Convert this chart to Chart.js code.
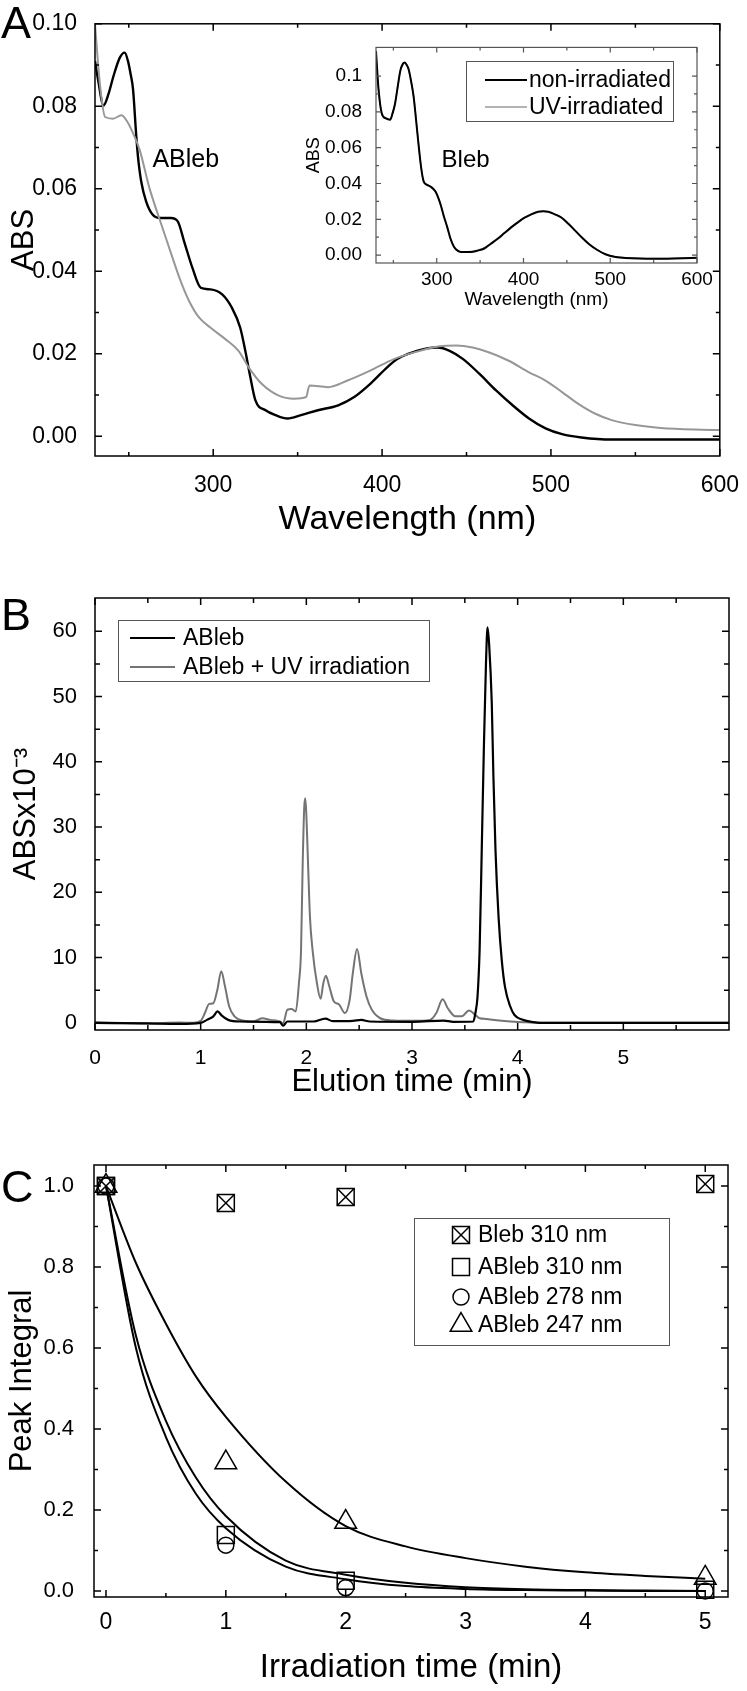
<!DOCTYPE html>
<html>
<head>
<meta charset="utf-8">
<script src="https://cdn.jsdelivr.net/npm/chart.js@4.4.1/dist/chart.umd.min.js"></script>
<style>
  html, body { margin: 0; padding: 0; background: #fff; }
  #pagina { position: relative; width: 747px; height: 1691px; background: #fff; overflow: hidden; }
  canvas { position: absolute; }
</style>
</head>
<body>
<div id="pagina">
  <canvas id="graficoA" width="747" height="560" style="left:0;top:0"></canvas>
  <canvas id="graficoInset" width="440" height="290" style="left:290px;top:30px"></canvas>
  <canvas id="graficoB" width="747" height="550" style="left:0;top:560px"></canvas>
  <canvas id="graficoC" width="747" height="581" style="left:0;top:1110px"></canvas>
</div>
<script>
// ========== DADOS: PAINEL A (espectro ABleb) ==========
const ondaPretoA = [230, 232, 235, 238, 241, 244.7, 247.6, 249.5, 251, 252.5,
    254.4, 255.4, 257.4, 260.3, 264.2, 269, 275, 279, 282.8, 287.7,
    292.6, 298.4, 305.3, 311, 316, 319, 322, 325, 331, 337,
    344, 352, 362, 374, 383.5, 393, 403, 409, 415, 420.6,
    426.5, 433, 440, 448, 457.7, 467.5, 477.3, 487, 496.8, 506.6,
    518, 536, 565, 600];
const absPretoA = [0.091, 0.086, 0.0802, 0.083, 0.0874, 0.0918, 0.093, 0.091, 0.088, 0.0842,
    0.073, 0.068, 0.0617, 0.0569, 0.0537, 0.0529, 0.0529, 0.0521, 0.0472, 0.0408,
    0.036, 0.0356, 0.0344, 0.0312, 0.0263, 0.0207, 0.0143, 0.0087, 0.0063, 0.0051,
    0.0043, 0.0051, 0.0063, 0.0075, 0.0095, 0.0127, 0.0167, 0.0187, 0.0199, 0.0207,
    0.0213, 0.0215, 0.0207, 0.0187, 0.0151, 0.0111, 0.0075, 0.0043, 0.0019, 0.0005,
    -0.0003, -0.0008, -0.0008, -0.0008];

const ondaCinzaA = [230, 233, 236, 240.7, 245.6, 248.6, 252.5, 256.4, 262.3, 268,
    274, 280, 285.7, 291.6, 299.4, 307, 315, 321, 328.7, 338.5,
    348, 355, 357, 368, 379.5, 393, 407, 420.6, 434, 444,
    453.7, 463.5, 475, 487, 496.8, 506.6, 516, 526, 536, 550,
    565, 585, 600];
const absCinzaA = [0.0998, 0.085, 0.0774, 0.077, 0.0778, 0.0766, 0.0735, 0.0695, 0.0601, 0.0529,
    0.0456, 0.0384, 0.0328, 0.0288, 0.026, 0.0236, 0.0207, 0.0167, 0.0127, 0.0099,
    0.0091, 0.0095, 0.0123, 0.0119, 0.0135, 0.0159, 0.0187, 0.0205, 0.0218, 0.022,
    0.0215, 0.0203, 0.0183, 0.0155, 0.0135, 0.0107, 0.0079, 0.0055, 0.0039, 0.0027,
    0.002, 0.0016, 0.0015];

// ========== DADOS: INSET (Bleb) ==========
const ondaInset = [230, 232.7, 236.6, 241, 246.3, 249, 252, 255, 258, 261,
    263, 265, 267.6, 270.5, 273.4, 276.3, 279.2, 282, 285, 288.9,
    292.8, 298.6, 304.4, 308, 312.2, 316, 320, 324, 327.7, 339.3,
    347, 354.8, 362, 370.3, 378, 385.8, 393.5, 401.3, 409, 416.9,
    422.7, 428.5, 436, 444, 451.7, 459.5, 467, 475, 484.7, 494.4,
    506, 517.6, 552.5, 600];
const absNaoIrradiado = [0.114, 0.094, 0.0792, 0.0765, 0.0756, 0.079, 0.0847, 0.094, 0.1029, 0.1068,
    0.1075, 0.1065, 0.1038, 0.097, 0.0884, 0.075, 0.061, 0.049, 0.041, 0.0392,
    0.0383, 0.0355, 0.0283, 0.022, 0.0155, 0.009, 0.0045, 0.0025, 0.0018, 0.0018,
    0.0025, 0.0037, 0.0062, 0.0091, 0.0123, 0.0155, 0.0183, 0.0209, 0.0228, 0.0242,
    0.0245, 0.0242, 0.0228, 0.0209, 0.0175, 0.0137, 0.01, 0.0064, 0.003, 0.0005,
    -0.001, -0.0016, -0.002, -0.0015];
const absUVIrradiado = [0.113, 0.093, 0.079, 0.0762, 0.0758, 0.0792, 0.0849, 0.0938, 0.1027, 0.107,
    0.1074, 0.1066, 0.1036, 0.0968, 0.0886, 0.0752, 0.0612, 0.0488, 0.0412, 0.0394,
    0.038, 0.0352, 0.0285, 0.0222, 0.0153, 0.0092, 0.0047, 0.0026, 0.0019, 0.002,
    0.0028, 0.004, 0.0065, 0.0094, 0.0125, 0.0157, 0.0185, 0.021, 0.0229, 0.0243,
    0.0245, 0.0243, 0.0229, 0.021, 0.0176, 0.0138, 0.0101, 0.0065, 0.0031, 0.0006,
    -0.0009, -0.0015, -0.0019, -0.0014];

// ========== DADOS: PAINEL B (cromatograma) ==========
const tempoCinzaB = [0, 0.5, 0.8, 0.93, 1.0, 1.04, 1.08, 1.12, 1.157, 1.195,
    1.23, 1.27, 1.32, 1.40, 1.5, 1.58, 1.66, 1.75, 1.78, 1.82,
    1.86, 1.90, 1.93, 1.95, 1.965, 1.98, 1.99, 2.0, 2.015, 2.035,
    2.06, 2.10, 2.135, 2.16, 2.185, 2.217, 2.26, 2.31, 2.365, 2.41,
    2.44, 2.48, 2.52, 2.57, 2.62, 2.70, 2.82, 3.0, 3.17, 3.23,
    3.29, 3.34, 3.41, 3.47, 3.54, 3.60, 3.64, 3.70, 3.80, 3.90,
    4.05, 4.2, 5.0, 6.0];
const absCinzaB = [0.1, -0.1, 0.05, 0, 0.3, 1.5, 2.9, 3.0, 5.0, 7.9,
    5.6, 2.5, 1.0, 0.35, 0.2, 0.7, 0.45, 0.2, -0.1, 2.0,
    2.1, 1.75, 6.1, 11.2, 24, 33, 34.4, 32, 25, 16,
    11, 6.1, 3.7, 6.0, 7.2, 5.6, 3.3, 2.8, 1.5, 3.5,
    7.6, 11.3, 7.6, 4.0, 2.0, 0.7, 0.35, 0.3, 0.45, 1.5,
    3.6, 2.2, 1.0, 1.0, 1.9, 1.2, 0.7, 0.6, 0.4, 0.25,
    0.1, 0, 0, 0];

const tempoPretoB = [0, 0.5, 0.8, 1.0, 1.06, 1.12, 1.16, 1.2, 1.26, 1.37,
    1.75, 1.78, 1.82, 2.07, 2.18, 2.25, 2.44, 2.52, 2.60, 3.01,
    3.30, 3.39, 3.58, 3.60, 3.62, 3.64, 3.66, 3.68, 3.70, 3.715,
    3.73, 3.755, 3.77, 3.79, 3.82, 3.85, 3.88, 3.93, 3.97, 4.05,
    4.15, 4.21, 5.0, 6.0];
const absPretoB = [0, -0.1, -0.15, 0, 0.45, 1.0, 1.75, 1.1, 0.45, 0.2,
    0.1, -0.45, 0.2, 0.2, 0.65, 0.25, 0.3, 0.45, 0.2, 0.15,
    0.35, 0.15, 0.2, 1.5, 4, 11.2, 26.5, 42, 55, 60.6,
    58, 49, 38, 26.5, 16, 9.5, 5.5, 2.5, 1.2, 0.45,
    0.1, 0, 0, 0];

// ========== DADOS: PAINEL C (integrais dos picos) ==========
const tempoIrr = [0, 1, 2, 5];
const bleb310 = [1.0, 0.958, 0.973, 1.005];
const ableb310 = [1.0, 0.138, 0.025, 0.003];
const ableb278 = [1.0, 0.113, 0.008, 0.0];
const ableb247 = [1.0, 0.317, 0.17, 0.032];

const tempoAjuste = [0, 0.25, 0.5, 0.75, 1, 1.5, 2, 2.5, 3, 3.5, 4, 4.5, 5];
const ajuste247 = [1.0, 0.81, 0.66, 0.53, 0.43, 0.27, 0.16, 0.11, 0.081, 0.06, 0.046, 0.037, 0.030];
const ajuste310 = [1.0, 0.63, 0.42, 0.28, 0.185, 0.075, 0.04, 0.02, 0.009, 0.004, 0.002, 0.001, 0.0];
const ajuste278 = [1.0, 0.60, 0.38, 0.24, 0.155, 0.06, 0.029, 0.012, 0.005, 0.002, 0.001, 0.0, 0.0];

// ========== MARCAS DOS EIXOS ==========
const ticksXA = [300, 400, 500, 600];
const ticksXAmenores = [250, 350, 450, 550];
const ticksYA = [0, 0.02, 0.04, 0.06, 0.08, 0.1];
const ticksYAmenores = [0.01, 0.03, 0.05, 0.07, 0.09];
const ticksXB = [0, 1, 2, 3, 4, 5];
const ticksXBmenores = [0.5, 1.5, 2.5, 3.5, 4.5, 5.5];
const ticksYB = [0, 10, 20, 30, 40, 50, 60];
const ticksYBmenores = [5, 15, 25, 35, 45, 55];
const ticksXC = [0, 1, 2, 3, 4, 5];
const ticksXCmenores = [0.5, 1.5, 2.5, 3.5, 4.5];
const ticksYC = [0, 0.2, 0.4, 0.6, 0.8, 1.0];
const ticksYCmenores = [0.1, 0.3, 0.5, 0.7, 0.9];

// ========== AUXILIARES ==========
const FONTE = '"Liberation Sans", Arial, Helvetica, sans-serif';
const pares = (xs, ys) => xs.map((x, i) => ({ x: x, y: ys[i] }));
const fixaTicks = lista => scale => { scale.ticks = lista.map(v => ({ value: v })); };

function desenhaMarcador(ctx, estilo, x, y, r) {
    ctx.beginPath();
    if (estilo === 'rect') {
        const s = r * Math.SQRT1_2;
        ctx.rect(x - s, y - s, 2 * s, 2 * s);
    } else if (estilo === 'circle') {
        ctx.arc(x, y, r, 0, Math.PI * 2);
    } else if (estilo === 'triangle') {
        let ang = 0;
        ctx.moveTo(x + Math.sin(ang) * r, y - Math.cos(ang) * r);
        ang += Math.PI * 2 / 3;
        ctx.lineTo(x + Math.sin(ang) * r, y - Math.cos(ang) * r);
        ang += Math.PI * 2 / 3;
        ctx.lineTo(x + Math.sin(ang) * r, y - Math.cos(ang) * r);
        ctx.closePath();
    } else if (estilo === 'crossRot') {
        const s = r * Math.SQRT1_2;
        ctx.moveTo(x - s, y - s); ctx.lineTo(x + s, y + s);
        ctx.moveTo(x + s, y - s); ctx.lineTo(x - s, y + s);
    }
    ctx.stroke();
}

// moldura com marcas para dentro nos quatro lados
const molduraTicks = {
    id: 'molduraTicks',
    afterDraw(chart, args, opts) {
        const { ctx, chartArea: a } = chart;
        const { x, y } = chart.scales;
        ctx.save();
        ctx.strokeStyle = opts.cor || '#000';
        ctx.lineWidth = opts.espessura || 1.5;
        ctx.strokeRect(a.left, a.top, a.right - a.left, a.bottom - a.top);
        const marca = (scale, valores, tam, horizontal) => {
            valores.forEach(v => {
                const p = scale.getPixelForValue(v);
                ctx.beginPath();
                if (horizontal) {
                    ctx.moveTo(p, a.bottom); ctx.lineTo(p, a.bottom - tam);
                    ctx.moveTo(p, a.top); ctx.lineTo(p, a.top + tam);
                } else {
                    ctx.moveTo(a.left, p); ctx.lineTo(a.left + tam, p);
                    ctx.moveTo(a.right, p); ctx.lineTo(a.right - tam, p);
                }
                ctx.stroke();
            });
        };
        marca(x, opts.xMaior, opts.maior, true);
        marca(x, opts.xMenor, opts.menor, true);
        marca(y, opts.yMaior, opts.maior, false);
        marca(y, opts.yMenor, opts.menor, false);
        ctx.restore();
    }
};

// letra do painel, rótulos e legenda própria
const decoracao = {
    id: 'decoracao',
    afterDraw(chart, args, opts) {
        const ctx = chart.ctx;
        ctx.save();
        ctx.fillStyle = '#000';
        if (opts.letra) {
            ctx.font = '45px ' + FONTE;
            ctx.textBaseline = 'alphabetic';
            ctx.fillText(opts.letra.texto, opts.letra.x, opts.letra.y);
        }
        (opts.rotulos || []).forEach(r => {
            ctx.font = r.fonte;
            ctx.textBaseline = 'alphabetic';
            ctx.fillText(r.texto, chart.scales.x.getPixelForValue(r.x), chart.scales.y.getPixelForValue(r.y));
        });
        const leg = opts.legenda;
        if (leg) {
            ctx.strokeStyle = '#555';
            ctx.lineWidth = 1;
            ctx.strokeRect(leg.x + 0.5, leg.y + 0.5, leg.w, leg.h);
            ctx.font = leg.fonte;
            ctx.textBaseline = 'middle';
            ctx.textAlign = 'left';
            leg.itens.forEach((grupo, i) => {
                const yy = leg.linhas[i];
                grupo.forEach(idx => {
                    const ds = chart.data.datasets[idx];
                    ctx.strokeStyle = ds.borderColor;
                    ctx.lineWidth = ds.borderWidth;
                    if (leg.tipo === 'linha') {
                        ctx.beginPath();
                        ctx.moveTo(leg.simbolo[0], yy);
                        ctx.lineTo(leg.simbolo[1], yy);
                        ctx.stroke();
                    } else {
                        desenhaMarcador(ctx, ds.pointStyle, leg.simbolo[0], yy, ds.pointRadius);
                    }
                });
                ctx.fillText(chart.data.datasets[grupo[0]].label, leg.textoX, yy + 1);
            });
        }
        ctx.restore();
    }
};

function eixoX(min, max, ticks, altura, fonteTick, padTick, titulo, fonteTitulo, padTitulo) {
    return {
        type: 'linear', min: min, max: max,
        grid: { display: false }, border: { display: false },
        afterBuildTicks: fixaTicks(ticks),
        afterFit: s => { s.height = altura; },
        ticks: { color: '#000', font: { family: FONTE, size: fonteTick }, padding: padTick,
                 autoSkip: false, maxRotation: 0, minRotation: 0 },
        title: { display: true, text: titulo, color: '#000',
                 font: { family: FONTE, size: fonteTitulo }, padding: { top: 0, bottom: padTitulo } }
    };
}

function eixoY(min, max, ticks, largura, fonteTick, padTick, formato, titulo, fonteTitulo, padTitulo) {
    return {
        type: 'linear', min: min, max: max,
        grid: { display: false }, border: { display: false },
        afterBuildTicks: fixaTicks(ticks),
        afterFit: s => { s.width = largura; },
        ticks: { color: '#000', font: { family: FONTE, size: fonteTick }, padding: padTick,
                 autoSkip: false, callback: formato },
        title: { display: true, text: titulo, color: '#000',
                 font: { family: FONTE, size: fonteTitulo }, padding: { top: padTitulo, bottom: 0 } }
    };
}

const opcoesBase = {
    responsive: false,
    animation: false,
    elements: { point: { radius: 0 }, line: { cubicInterpolationMode: 'monotone' } },
    plugins: { legend: { display: false }, tooltip: { enabled: false } }
};

// ========== PAINEL A ==========
new Chart(document.getElementById('graficoA'), {
    type: 'line',
    data: {
        datasets: [
            { label: 'ABleb + UV', data: pares(ondaCinzaA, absCinzaA), borderColor: '#979797', borderWidth: 2 },
            { label: 'ABleb', data: pares(ondaPretoA, absPretoA), borderColor: '#000', borderWidth: 2.4 }
        ]
    },
    options: {
        ...opcoesBase,
        layout: { padding: { left: 0, top: 22, right: 22, bottom: 0 } },
        plugins: {
            ...opcoesBase.plugins,
            molduraTicks: { xMaior: ticksXA, xMenor: ticksXAmenores, yMaior: ticksYA, yMenor: ticksYAmenores, maior: 7, menor: 4 },
            decoracao: {
                letra: { texto: 'A', x: 1, y: 38 },
                rotulos: [{ texto: 'ABleb', x: 264, y: 0.0653, fonte: '25px ' + FONTE }]
            }
        },
        scales: {
            x: eixoX(230, 600, ticksXA, 104, 23, 8, 'Wavelength (nm)', 34, 19.6),
            y: eixoY(-0.0048, 0.1, ticksYA, 95, 23, 10, v => v.toFixed(2), 'ABS', 31, 5.4)
        }
    },
    plugins: [molduraTicks, decoracao]
});

// ========== INSET ==========
new Chart(document.getElementById('graficoInset'), {
    type: 'line',
    data: {
        datasets: [
            { label: 'non-irradiated', data: pares(ondaInset, absNaoIrradiado), borderColor: '#000', borderWidth: 2 },
            { label: 'UV-irradiated', data: pares(ondaInset, absUVIrradiado), borderColor: '#9a9a9a', borderWidth: 1.4 }
        ]
    },
    options: {
        ...opcoesBase,
        layout: { padding: { left: 0, top: 13, right: 33, bottom: 0 } },
        plugins: {
            ...opcoesBase.plugins,
            molduraTicks: { xMaior: ticksXA, xMenor: ticksXAmenores, yMaior: ticksYA, yMenor: ticksYAmenores,
                            maior: 5, menor: 3, cor: '#555', espessura: 1.2 },
            decoracao: {
                rotulos: [{ texto: 'Bleb', x: 305.6, y: 0.049, fonte: '24px ' + FONTE }],
                legenda: { x: 176, y: 31, w: 207, h: 60, tipo: 'linha', simbolo: [195, 237], textoX: 239,
                           linhas: [50, 77], itens: [[0], [1]], fonte: '23px ' + FONTE }
            }
        },
        scales: {
            x: eixoX(230, 600, ticksXA, 57, 19, -3, 'Wavelength (nm)', 19, 9),
            y: eixoY(-0.0044, 0.116, ticksYA, 86, 19, 6,
                     v => (Math.abs(v - 0.1) < 1e-9 ? '0.1' : v.toFixed(2)), 'ABS', 18, 13.2)
        }
    },
    plugins: [molduraTicks, decoracao]
});

// ========== PAINEL B ==========
new Chart(document.getElementById('graficoB'), {
    type: 'line',
    data: {
        datasets: [
            { label: 'ABleb', data: pares(tempoPretoB, absPretoB), borderColor: '#000', borderWidth: 2.2 },
            { label: 'ABleb + UV irradiation', data: pares(tempoCinzaB, absCinzaB), borderColor: '#747474', borderWidth: 2 }
        ]
    },
    options: {
        ...opcoesBase,
        layout: { padding: { left: 0, top: 38, right: 18, bottom: 0 } },
        plugins: {
            ...opcoesBase.plugins,
            molduraTicks: { xMaior: ticksXB, xMenor: ticksXBmenores, yMaior: ticksYB, yMenor: ticksYBmenores, maior: 7, menor: 5 },
            decoracao: {
                letra: { texto: 'B', x: 1, y: 70 },
                legenda: { x: 118, y: 60, w: 311, h: 61, tipo: 'linha', simbolo: [130, 175], textoX: 183,
                           linhas: [78, 107], itens: [[0], [1]], fonte: '23px ' + FONTE }
            }
        },
        scales: {
            x: eixoX(0, 6, ticksXB, 80, 21, 7.4, 'Elution time (min)', 31, 9.4),
            y: eixoY(-1.1, 65.1, ticksYB, 95, 22, 10, v => String(v), 'ABSx10⁻³', 31, 7.4)
        }
    },
    plugins: [molduraTicks, decoracao]
});

// ========== PAINEL C ==========
const marcador = (label, dados, estilo, raio) => ({
    label: label, data: pares(tempoIrr, dados), showLine: false,
    pointStyle: estilo, pointRadius: raio, borderColor: '#000', borderWidth: 1.5,
    backgroundColor: 'rgba(0,0,0,0)', clip: false
});
const ajuste = dados => ({
    label: '', data: pares(tempoAjuste, dados), borderColor: '#000', borderWidth: 2, pointRadius: 0
});

new Chart(document.getElementById('graficoC'), {
    type: 'line',
    data: {
        datasets: [
            ajuste(ajuste247),
            ajuste(ajuste310),
            ajuste(ajuste278),
            marcador('Bleb 310 nm', bleb310, 'rect', 12),
            marcador('Bleb 310 nm', bleb310, 'crossRot', 12),
            marcador('ABleb 310 nm', ableb310, 'rect', 12),
            marcador('ABleb 278 nm', ableb278, 'circle', 8),
            marcador('ABleb 247 nm', ableb247, 'triangle', 12.5)
        ]
    },
    options: {
        ...opcoesBase,
        layout: { padding: { left: 0, top: 55, right: 19, bottom: 0 } },
        plugins: {
            ...opcoesBase.plugins,
            molduraTicks: { xMaior: ticksXC, xMenor: ticksXCmenores, yMaior: ticksYC, yMenor: ticksYCmenores, maior: 7, menor: 4 },
            decoracao: {
                letra: { texto: 'C', x: 1, y: 92 },
                legenda: { x: 414, y: 108, w: 255, h: 127, tipo: 'marcador', simbolo: [461], textoX: 478,
                           linhas: [125, 157, 187, 215], itens: [[3, 4], [5], [6], [7]], fonte: '23px ' + FONTE }
            }
        },
        scales: {
            x: eixoX(-0.1, 5.19, ticksXC, 94, 23, 4.2, 'Irradiation time (min)', 33, 3.2),
            y: eixoY(-0.015, 1.052, ticksYC, 94, 22, 12, v => v.toFixed(1), 'Peak Integral', 31, 3.4)
        }
    },
    plugins: [molduraTicks, decoracao]
});
</script>
</body>
</html>
